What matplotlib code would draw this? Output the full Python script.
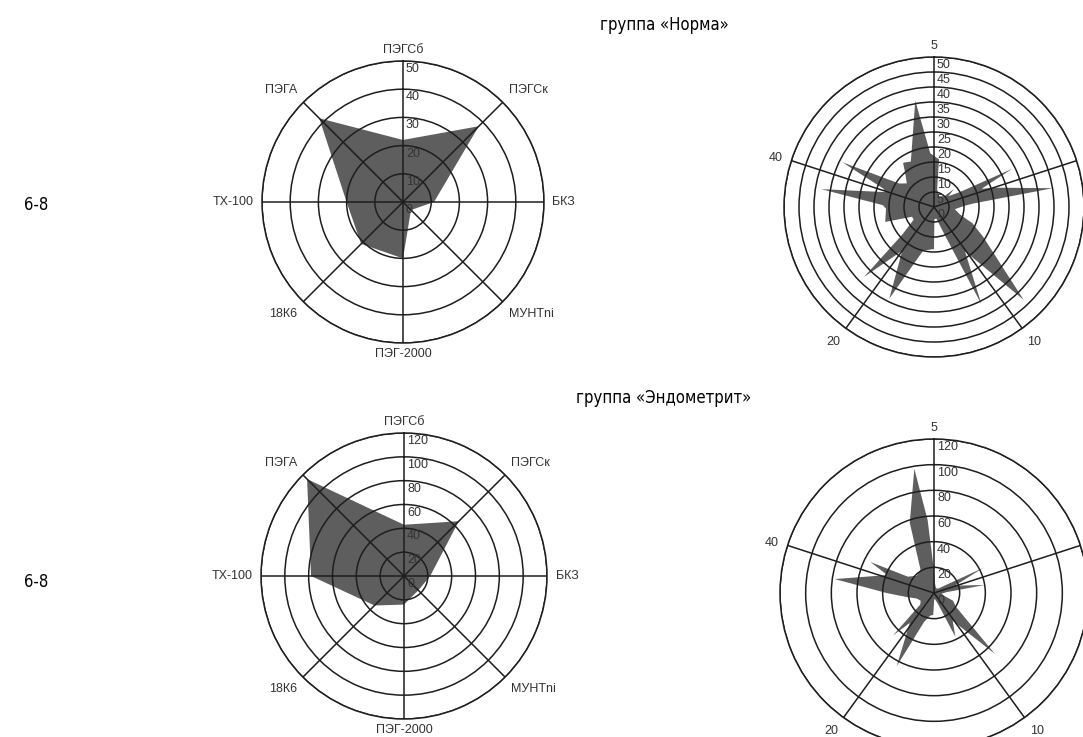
import numpy as np
import matplotlib
matplotlib.use("Agg")
import matplotlib.pyplot as plt
from matplotlib.transforms import offset_copy

# sorbent panel (left radars)
categories = ['ПЭГСб', 'ПЭГСк', 'БКЗ', 'МУНТni', 'ПЭГ-2000', '18К6', 'ТХ-100', 'ПЭГА']
norma_values = [22, 38, 11, 4, 20, 21, 20, 42]
endo_values = [43, 65, 22, 17, 24, 35, 78, 115]

# spectrum panel (right radars): vertex angle (deg, clockwise from top) and value
norma_spec_angle = [0, 6, 10, 25, 44, 48, 53, 60, 64, 69, 73, 81, 85, 88, 96, 106,
                    113, 117, 121, 136, 145, 154, 159, 168, 178, 180, 194, 206,
                    216, 225, 229, 238, 246, 253, 268, 272, 279, 287, 290, 296, 304,
                    311, 320, 325, 333, 350, 356]
norma_spec_value = [17, 16, 6, 4, 5, 9, 6, 10, 29, 17, 22, 40, 13, 10, 7, 9,
                    14, 16, 19, 43, 18, 36, 10, 4, 4, 14, 15, 34,
                    18, 33, 14, 8, 8, 17, 16, 17, 38, 17, 18, 34, 14,
                    12, 15, 18, 17, 36, 18]

endo_spec_angle = [0, 5, 15, 30, 45, 55, 63, 70, 74, 81, 86, 95, 105, 112, 122,
                   135, 146, 154, 160, 170, 178, 182, 190, 199, 207, 219, 224, 230,
                   240, 252, 262, 270, 278, 291, 296, 302, 315, 330, 341, 351,
                   355, 358]
endo_spec_value = [20, 8, 5, 4, 5, 10, 43, 18, 21, 40, 10, 6, 8, 16, 20,
                   67, 26, 38, 9, 5, 5, 17, 18, 24, 64, 30, 46, 14,
                   12, 14, 22, 37, 78, 39, 55, 24, 19, 21, 58, 98,
                   57, 24]

spec_axes = [0, 72, 144, 216, 288]
spec_axis_labels = ['5', '', '10', '20', '40']

W, H = 1083, 737
fig = plt.figure(figsize=(W / 100, H / 100), dpi=100)

FILL = '#5e5e5e'
LINE = '#1e1e1e'
TXT = '#333333'
small_font = dict(family=['Liberation Sans', 'DejaVu Sans'], fontsize=9, color=TXT)
big_font = dict(family=['DejaVu Sans'], fontstretch='condensed', fontsize=12, color='black')


def polar_at(cx, cy, r):
    # axes box given as circle centre/radius in pixels (y from top)
    ax = fig.add_axes([(cx - r) / W, (H - cy - r) / H, 2 * r / W, 2 * r / H],
                      projection='polar')
    ax.set_theta_zero_location('N')
    ax.set_theta_direction(-1)
    ax.spines['polar'].set_color(LINE)
    ax.spines['polar'].set_linewidth(1.1)
    ax.grid(True, color=LINE, linewidth=1.1)
    ax.tick_params(length=0)
    return ax


def radar(ax, angles, values, rmax, rings, labels):
    th = np.deg2rad(np.append(angles, angles[0]))
    rv = np.append(values, values[0])
    ax.fill(th, rv, color=FILL, lw=0, zorder=1)
    ax.set_ylim(0, rmax)
    ax.set_yticks(rings)
    ax.set_yticklabels([])
    ax.set_xticks(np.deg2rad(labels[0]))
    ax.set_xticklabels([])

    # radial scale just right of the top spoke
    tr = offset_copy(ax.transData, fig=fig, x=3, y=-2, units='dots')
    for v in [0] + list(rings):
        ax.text(0, v, str(v), transform=tr, ha='left', va='top', **small_font)

    for a, name in zip(*labels):
        s, c = np.sin(np.deg2rad(a)), np.cos(np.deg2rad(a))
        ha = 'left' if s > 0.3 else ('right' if s < -0.3 else 'center')
        va = 'bottom' if c > 0.5 else ('top' if c < -0.5 else 'center')
        k = 1.035 if abs(c) > 0.95 else 1.06
        ax.text(np.deg2rad(a), rmax * k, name, ha=ha, va=va,
                clip_on=False, **small_font)


cat_angles = np.arange(len(categories)) * 360 / len(categories)

ax1 = polar_at(403, 202, 141)
radar(ax1, cat_angles, norma_values, 50, [10, 20, 30, 40, 50],
      (cat_angles, categories))

ax2 = polar_at(934, 207, 150)
radar(ax2, norma_spec_angle, norma_spec_value, 50, list(range(5, 55, 5)),
      (spec_axes, spec_axis_labels))

ax3 = polar_at(404, 576, 143)
radar(ax3, cat_angles, endo_values, 120, [20, 40, 60, 80, 100, 120],
      (cat_angles, categories))

ax4 = polar_at(934, 593, 154)
radar(ax4, endo_spec_angle, endo_spec_value, 120, [20, 40, 60, 80, 100, 120],
      (spec_axes, spec_axis_labels))

fig.text(664 / W, 1 - 25 / H, 'группа «Норма»', ha='center', va='center', **big_font)
fig.text(664 / W, 1 - 398 / H, 'группа «Эндометрит»', ha='center', va='center', **big_font)
fig.text(36 / W, 1 - 205 / H, '6-8', ha='center', va='center', **big_font)
fig.text(36 / W, 1 - 582 / H, '6-8', ha='center', va='center', **big_font)

fig.savefig('out.png', dpi=100)
